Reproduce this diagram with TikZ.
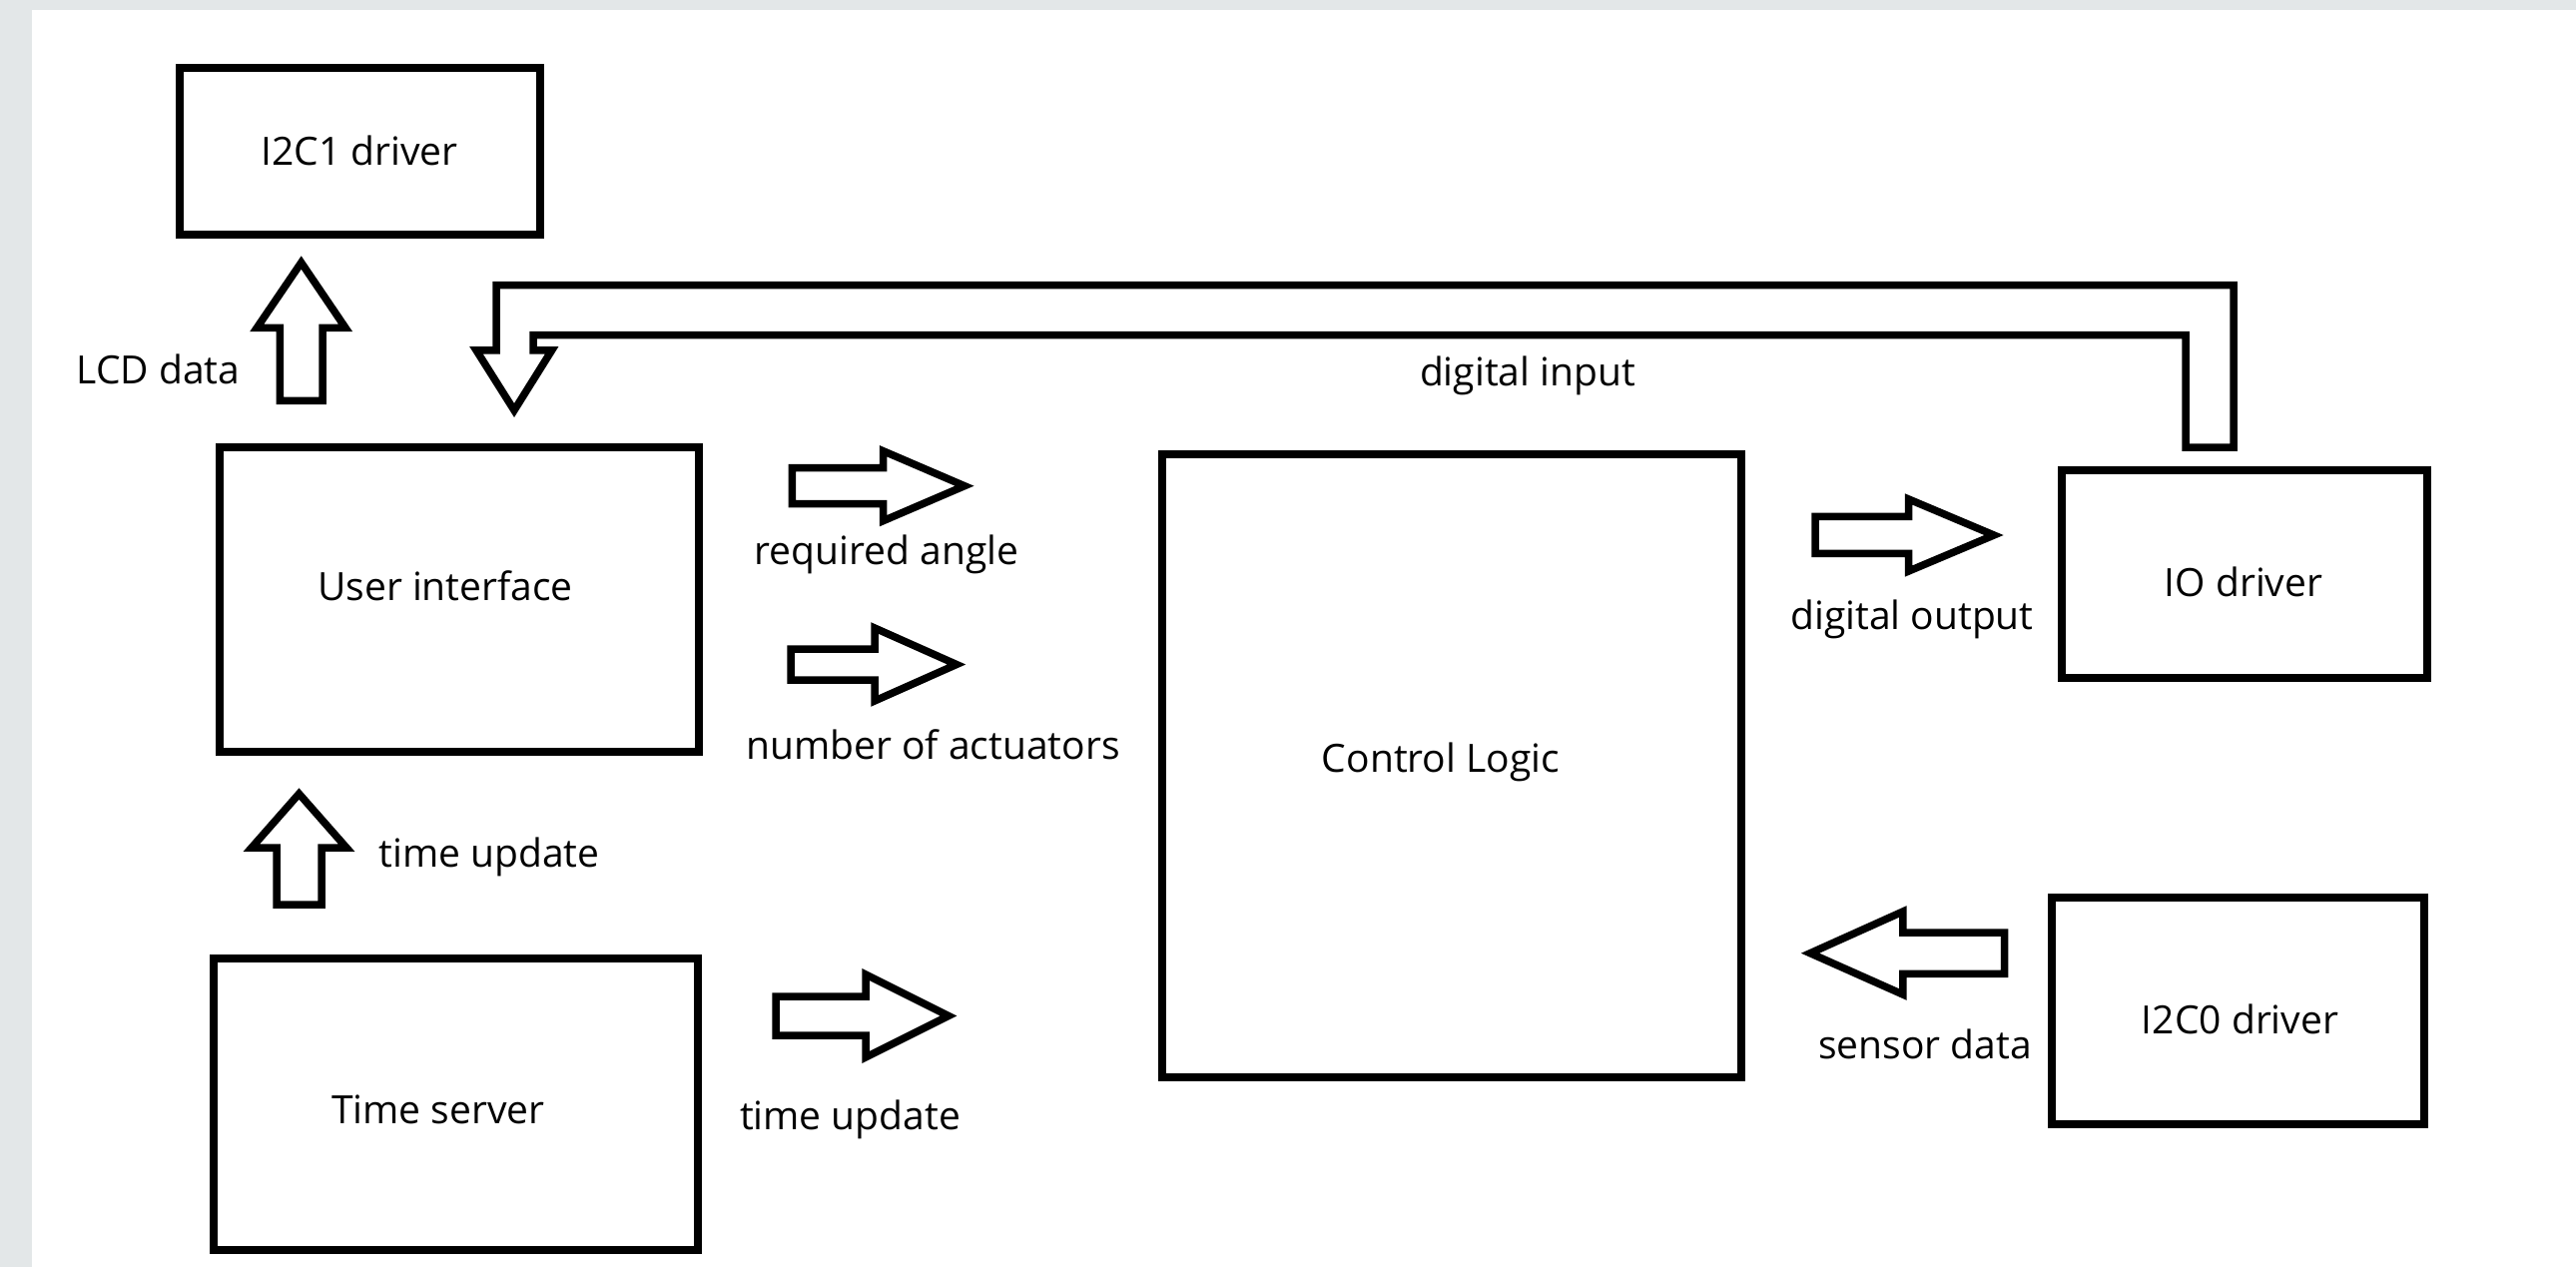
\documentclass[tikz,border=0pt]{standalone}
\usepackage{fontspec}
\setmainfont{Open Sans}
\definecolor{greybg}{RGB}{227,231,232}
\begin{document}
\begin{tikzpicture}[x=1pt,y=-1pt,
  box/.style={draw=black,line width=8pt,inner sep=0pt},
  blockarrow/.style={draw=black,line width=7.5pt,line join=miter,miter limit=10,fill=white},
  lbl/.style={font=\fontsize{39}{47}\selectfont,inner sep=0pt,anchor=base,text=black}]
\useasboundingbox (0,0) rectangle (2580,1269);
\fill[white] (0,0) rectangle (2580,1269);
\fill[greybg] (0,0) rectangle (32,1269);
\fill[greybg] (0,0) rectangle (2580,10);

% boxes
\node[box,minimum width=361pt,minimum height=167pt] (i2c1) at (360.5,151.5) {};
\node[box,minimum width=480pt,minimum height=305pt] (ui) at (460,600.5) {};
\node[box,minimum width=485pt,minimum height=292pt] (ts) at (456.5,1106) {};
\node[box,minimum width=580pt,minimum height=624pt] (cl) at (1454,767) {};
\node[box,minimum width=366pt,minimum height=208pt] (io) at (2248,575) {};
\node[box,minimum width=373pt,minimum height=227pt] (i2c0) at (2241.5,1012.5) {};

% box labels
\node[lbl] (i2c1t) at (360,165) {I2C1 driver};
\node[lbl] (uit) at (446,601) {User interface};
\node[lbl] (tst) at (439,1125) {Time server};
\node[lbl] (clt) at (1443,773) {Control Logic};
\node[lbl] (iot) at (2247,597) {IO driver};
\node[lbl] (i2c0t) at (2243.5,1035) {I2C0 driver};

% arrow labels
\node[lbl] (lcdt) at (158.5,384) {LCD data};
\node[lbl] (dit) at (1530,386) {digital input};
\node[lbl] (rat) at (888,565) {required angle};
\node[lbl] (nat) at (934.5,760) {number of actuators};
\node[lbl] (tu1t) at (490,868) {time update};
\node[lbl] (tu2t) at (851.5,1131) {time update};
\node[lbl] (dot) at (1915,630) {digital output};
\node[lbl] (sdt) at (1928,1060) {sensor data};

% block arrows
% LCD data (up, UI -> I2C1)
\draw[blockarrow] (280.3,401.3) -- (280.3,328.3) -- (257.3,328.3) -- (301.7,263) -- (346,328.3) -- (323,328.3) -- (323,401.3) -- cycle;
% time update (up, Time server -> UI)
\draw[blockarrow] (277,906) -- (277,849) -- (252,849) -- (299.5,795) -- (347,849) -- (322,849) -- (322,906) -- cycle;
% required angle
\draw[blockarrow] (793.3,468.7) -- (884.5,468.7) -- (884.5,451.7) -- (966,486.7) -- (884.5,521.7) -- (884.5,504.7) -- (793.3,504.7) -- cycle;
% number of actuators
\draw[blockarrow] (792,650) -- (876,650) -- (876,629) -- (958,665.5) -- (876,702) -- (876,681) -- (792,681) -- cycle;
% time update (right)
\draw[blockarrow] (777,998) -- (867,998) -- (867,976) -- (950,1017.5) -- (867,1059) -- (867,1037) -- (777,1037) -- cycle;
% digital output
\draw[blockarrow] (1818,517.3) -- (1911.7,517.3) -- (1911.7,500) -- (1997,536) -- (1911.7,572) -- (1911.7,554.3) -- (1818,554.3) -- cycle;
% sensor data (left)
\draw[blockarrow] (2007.7,934) -- (1905.8,934) -- (1905.8,913) -- (1813,954.7) -- (1905.8,996) -- (1905.8,975.3) -- (2007.7,975.3) -- cycle;
% digital input (bent, IO -> UI)
\draw[blockarrow] (2189,448) -- (2237,448) -- (2237,285.5) -- (497,285.5) -- (497,350.8) -- (477,350.8) -- (515,411) -- (552.7,350.8) -- (534.2,350.8) -- (534.2,335.5) -- (2189,335.5) -- cycle;
\end{tikzpicture}
\end{document}
